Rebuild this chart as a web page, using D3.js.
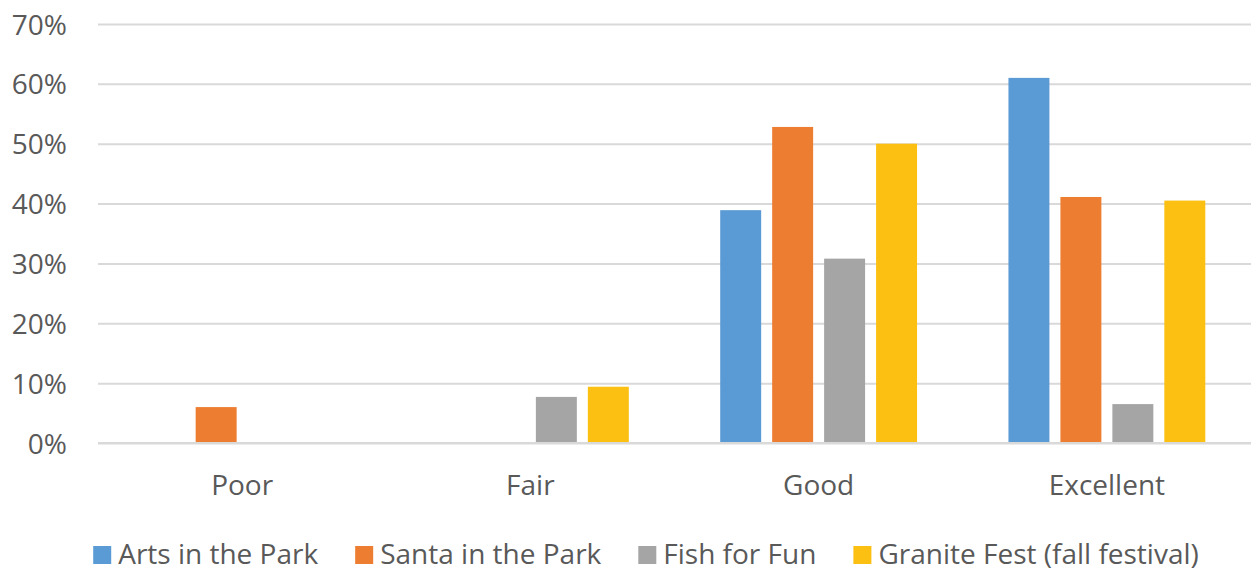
<!DOCTYPE html>
<html>
<head>
<meta charset="utf-8">
<script src="https://cdn.jsdelivr.net/npm/d3@7"></script>
<style>
  html, body { margin: 0; padding: 0; background: #fff; }
  svg text { font-family: "Open Sans", sans-serif; fill: #595959; }
</style>
</head>
<body>
<svg id="chart" width="1256" height="571"></svg>
<script>
// Event ratings, share of respondents per rating
const categories = ["Poor", "Fair", "Good", "Excellent"];
const seriesNames = ["Arts in the Park", "Santa in the Park", "Fish for Fun", "Granite Fest (fall festival)"];
const artsInThePark   = [0,    0,    38.9, 61.0];
const santaInThePark  = [6.0,  0,    52.8, 41.1];
const fishForFun      = [0,    7.7,  30.8, 6.5];
const graniteFest     = [0,    9.4,  50.0, 40.5];
const seriesValues = [artsInThePark, santaInThePark, fishForFun, graniteFest];
const yTicks = [0, 10, 20, 30, 40, 50, 60, 70];
const colors = ["#5B9BD5", "#ED7D31", "#A5A5A5", "#FBC012"];

const svg = d3.select("#chart");
const plotLeft = 98, plotRight = 1251, plotTop = 24, plotBottom = 443;

const x0 = d3.scaleBand().domain(categories).range([plotLeft, plotRight]).padding(0);
const x1 = d3.scaleBand().domain(seriesNames)
  .range([45.7, x0.bandwidth() - 45.7])
  .paddingInner(11 / 52).paddingOuter(0);
const y = d3.scaleLinear().domain([0, 70]).range([plotBottom, plotTop]);

// gridlines and y tick labels
const yAxis = d3.axisLeft(y).tickValues(yTicks).tickSize(-(plotRight - plotLeft)).tickFormat(d => d + "%");
const gy = svg.append("g").attr("transform", `translate(${plotLeft},0)`).call(yAxis);
gy.select(".domain").remove();
gy.selectAll(".tick line").attr("stroke", "#D9D9D9").attr("stroke-width", 2);
gy.selectAll(".tick text")
  .attr("x", -31).attr("dy", "0.36em")
  .attr("font-size", 28).attr("fill", "#595959")
  .style("font-family", "'Open Sans', sans-serif");

// bars
const rows = categories.map((c, i) => ({ cat: c, vals: seriesNames.map((s, j) => ({ s, j, v: seriesValues[j][i] })) }));
const groups = svg.append("g").selectAll("g").data(rows).join("g")
  .attr("transform", d => `translate(${x0(d.cat)},0)`);
groups.selectAll("rect").data(d => d.vals.filter(e => e.v > 0)).join("rect")
  .attr("x", d => x1(d.s))
  .attr("width", x1.bandwidth())
  .attr("y", d => y(d.v))
  .attr("height", d => y(0) - y(d.v))
  .attr("fill", d => colors[d.j]);

// baseline over bars
svg.append("line").attr("x1", plotLeft).attr("x2", plotRight).attr("y1", y(0)).attr("y2", y(0))
  .attr("stroke", "#D9D9D9").attr("stroke-width", 2);

// category labels
const xAxis = d3.axisBottom(x0).tickSize(0);
const gx = svg.append("g").attr("transform", `translate(0,${plotBottom})`).call(xAxis);
gx.select(".domain").remove();
gx.selectAll(".tick text")
  .attr("y", 52).attr("dy", 0)
  .attr("font-size", 28).attr("fill", "#595959")
  .style("font-family", "'Open Sans', sans-serif");

// legend
const legend = svg.append("g");
const items = legend.selectAll("g").data(seriesNames).join("g");
items.append("rect").attr("width", 18).attr("height", 18).attr("y", 546)
  .attr("fill", (d, i) => colors[i]);
items.append("text").attr("x", 25).attr("y", 564).attr("font-size", 28).text(d => d);
const gap = 37;
const widths = items.nodes().map(n => 25 + d3.select(n).select("text").node().getComputedTextLength());
const total = d3.sum(widths) + gap * (widths.length - 1);
let cx = 646 - total / 2;
items.attr("transform", (d, i) => {
  const t = `translate(${cx},0)`;
  cx += widths[i] + gap;
  return t;
});
</script>
</body>
</html>
